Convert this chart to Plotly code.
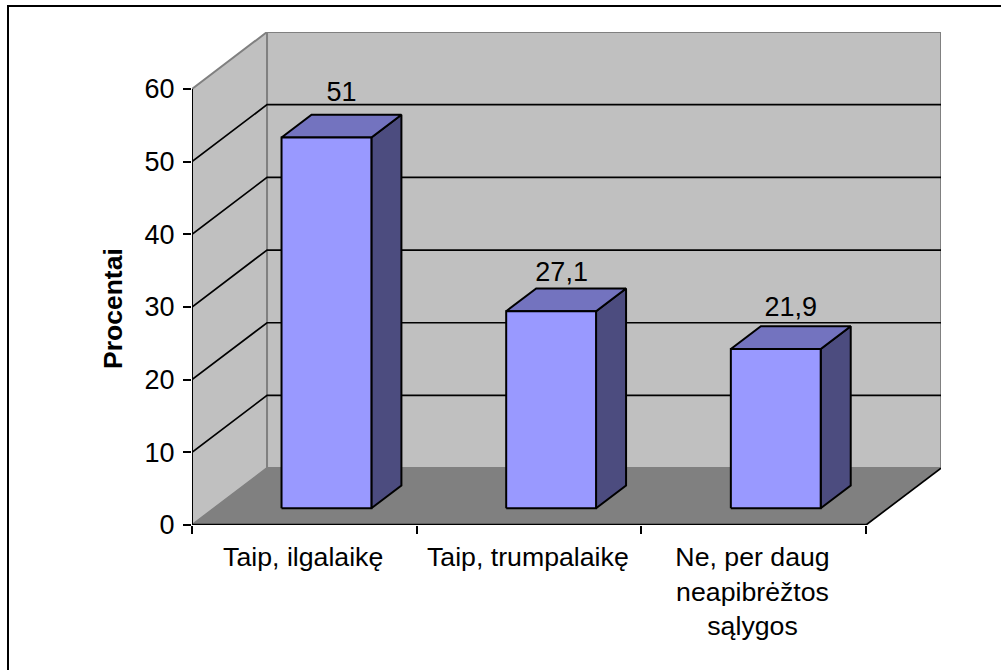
import plotly.graph_objects as go

categories = ["Taip, ilgalaikę", "Taip, trumpalaikę", "Ne, per daug<br>neapibrėžtos<br>sąlygos"]
values = [51, 27.1, 21.9]
value_labels = ["51", "27,1", "21,9"]
label_lift = [0.9, 0.05, 0.55]
label_shift = [0.0, -0.02, 0.0]
y_ticks = [0, 10, 20, 30, 40, 50, 60]
axis_title = "Procentai"

# oblique projection of the 3D box onto the 2D axes
DX = 0.334   # categories per unit of depth
DV = 7.83    # value units per unit of depth
BAR_W = 0.40
BAR_OFF = 0.30
D0, D1 = 0.295, 0.695
YMAX = max(y_ticks)
N = len(categories)
FONT = "Liberation Sans"

def P(c, v, d):
    return c + d * DX, v + d * DV

fig = go.Figure()

def poly(pts, fill, line="#808080", lw=1):
    xs = [P(*p)[0] for p in pts] + [P(*pts[0])[0]]
    ys = [P(*p)[1] for p in pts] + [P(*pts[0])[1]]
    fig.add_trace(go.Scatter(x=xs, y=ys, mode="lines", fill="toself", fillcolor=fill,
                             line=dict(color=line, width=lw), hoverinfo="skip", showlegend=False))

def seg(pts, color="#000000", lw=1.7):
    fig.add_trace(go.Scatter(x=[P(*p)[0] for p in pts], y=[P(*p)[1] for p in pts], mode="lines",
                             line=dict(color=color, width=lw), hoverinfo="skip", showlegend=False))

# walls and floor
poly([(0, 0, 0), (0, YMAX, 0), (0, YMAX, 1), (0, 0, 1)], "#C0C0C0", "#808080", 2)
poly([(0, 0, 1), (0, YMAX, 1), (N, YMAX, 1), (N, 0, 1)], "#C0C0C0", "#808080", 2)
poly([(0, 0, 0), (N, 0, 0), (N, 0, 1), (0, 0, 1)], "#808080", "#808080", 1)

# gridlines
for t in y_ticks[1:-1]:
    seg([(0, t, 0), (0, t, 1), (N, t, 1)])
seg([(N, 0, 0), (N, 0, 1)])

# bars
for i, v in enumerate(values):
    a, b = i + BAR_OFF, i + BAR_OFF + BAR_W
    poly([(b, 0, D0), (b, 0, D1), (b, v, D1), (b, v, D0)], "#4C4C7F", "#000000", 2)
    poly([(a, v, D0), (b, v, D0), (b, v, D1), (a, v, D1)], "#7373BF", "#000000", 2)
    poly([(a, 0, D0), (b, 0, D0), (b, v, D0), (a, v, D0)], "#9999FF", "#000000", 2)
    lx, _ = P((a + b) / 2 + label_shift[i], v, (D0 + D1) / 2)
    _, ly = P(a, v + label_lift[i], D1)
    fig.add_trace(go.Scatter(x=[lx], y=[ly], mode="text", text=[value_labels[i]], textposition="top center",
                             textfont=dict(family=FONT, size=27, color="#000"),
                             hoverinfo="skip", showlegend=False))

# axis lines
seg([(0, 0, 0), (0, YMAX, 0)], lw=2)
seg([(0, 0, 0), (N, 0, 0)], lw=2.5)

W, H = 1001, 670
fig.update_layout(
    template=None,
    width=W, height=H, margin=dict(l=0, r=0, t=0, b=0, pad=0), autosize=False,
    paper_bgcolor="#FFFFFF", plot_bgcolor="rgba(0,0,0,0)",
    xaxis=dict(domain=[192 / W, 941 / W], range=[0, N + DX], showgrid=False, zeroline=False, automargin=False,
               showline=False, tickmode="array", tickvals=[i + 0.495 for i in range(N)], ticktext=categories,
               ticklen=0, tickangle=0, ticks="outside", tickcolor="#000", ticklabelstandoff=8,
               tickfont=dict(family=FONT, size=26.7, color="#000"),
               minor=dict(tickmode="array", tickvals=list(range(N + 1)), ticks="outside", ticklen=8, tickcolor="#000", tickwidth=2, showgrid=False)),
    yaxis=dict(domain=[1 - 525 / H, 1 - 32 / H], range=[0, YMAX + DV], showgrid=False, zeroline=False, automargin=False,
               showline=False, tickmode="array", tickvals=y_ticks, ticks="outside", ticklen=8, tickcolor="#000", tickwidth=2,
               ticklabelstandoff=3,
               tickfont=dict(family=FONT, size=27, color="#000")),
    annotations=[dict(text="<b>" + axis_title + "</b>", xref="paper", yref="paper", x=112.5 / W, y=1 - 308.5 / H,
                      xanchor="center", yanchor="middle", textangle=-90, showarrow=False,
                      font=dict(family=FONT, size=26.5, color="#000"))],
    shapes=[dict(type="rect", xref="paper", yref="paper", x0=8 / W, x1=1.05, y0=-0.05, y1=1 - 6 / H,
                 line=dict(color="#000", width=2), fillcolor="rgba(0,0,0,0)", layer="below")],
)
fig.write_html("out.html", post_script="document.body.style.margin='0';", config={"displayModeBar": False})
